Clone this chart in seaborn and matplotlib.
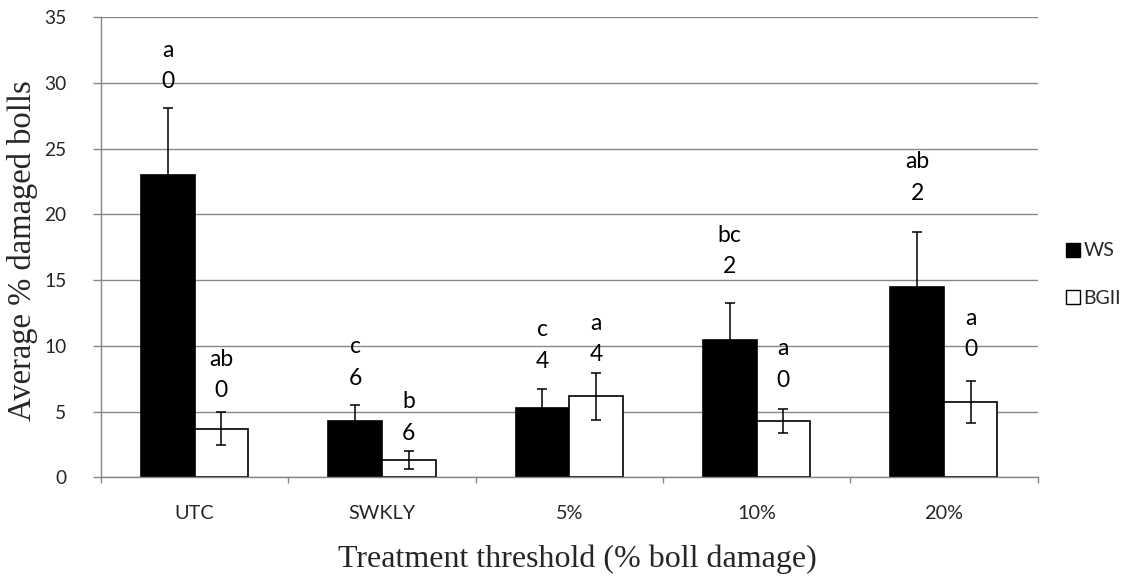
import matplotlib
matplotlib.use("Agg")
import matplotlib.pyplot as plt
from matplotlib.patches import Patch
import numpy as np
import pandas as pd
import seaborn as sns

# Mean % damaged bolls per treatment threshold, with standard errors
categories = ["UTC", "SWKLY", "5%", "10%", "20%"]
series = ["WS", "BGII"]
ws_mean = [23.0, 4.3, 5.3, 10.45, 14.5]
ws_err = [5.1, 1.2, 1.45, 2.85, 4.2]
bgii_mean = [3.7, 1.3, 6.15, 4.3, 5.7]
bgii_err = [1.25, 0.7, 1.78, 0.93, 1.6]

# Significance letters and spray counts written above each bar
ws_letters = ["a", "c", "c", "bc", "ab"]
bgii_letters = ["ab", "b", "a", "a", "a"]
ws_counts = ["0", "6", "4", "2", "2"]
bgii_counts = ["0", "6", "4", "0", "0"]

# Heights (data units) at which the spray-count line sits
ws_label_y = [30.1, 7.53, 8.8, 16.02, 21.61]
bgii_label_y = [6.59, 3.35, 9.31, 7.4, 9.69]

y_ticks = [0, 5, 10, 15, 20, 25, 30, 35]

sns.set_theme(style="white")
plt.rcParams["font.family"] = ["Lato", "DejaVu Sans"]

GRID = "#878787"
SERIF = ["Liberation Serif", "DejaVu Serif"]

df = pd.DataFrame({
    "threshold": categories * 2,
    "variety": ["WS"] * len(categories) + ["BGII"] * len(categories),
    "mean": ws_mean + bgii_mean,
})

fig = plt.figure(figsize=(11.36, 5.77), dpi=100)
ax = fig.add_axes([0.0889, 0.1728, 0.8244, 0.7972])

sns.barplot(
    data=df, x="threshold", y="mean", hue="variety",
    order=categories, hue_order=series,
    palette={"WS": "black", "BGII": "white"},
    errorbar=None, width=0.572, saturation=1,
    edgecolor="black", linewidth=1.2, legend=False, ax=ax, zorder=2,
)

# Error bars placed on the centres of the drawn bars
for container, means, errs in zip(ax.containers, [ws_mean, bgii_mean], [ws_err, bgii_err]):
    xs = [b.get_x() + b.get_width() / 2 for b in container]
    ax.errorbar(xs, means, yerr=errs, fmt="none", ecolor="black",
                elinewidth=1.1, capsize=3.4, capthick=1.1, zorder=3)

# Two-line annotations: letter on top, count below
for container, letters, counts, ys in zip(
        ax.containers, [ws_letters, bgii_letters], [ws_counts, bgii_counts],
        [ws_label_y, bgii_label_y]):
    for bar, let, cnt, y in zip(container, letters, counts, ys):
        xc = bar.get_x() + bar.get_width() / 2
        ax.text(xc, y, cnt, ha="center", va="center", fontsize=16.5,
                color="black", zorder=4)
        ax.annotate(let, (xc, y), xytext=(0, 22.8), textcoords="offset points",
                    ha="center", va="center", fontsize=16.5, color="black",
                    zorder=4)

ax.set_xlim(-0.5, len(categories) - 0.5)
ax.set_ylim(0, 35)
ax.set_yticks(y_ticks)
ax.set_yticklabels([str(t) for t in y_ticks], fontsize=13.8)

# Category labels at centres, tick marks at the category boundaries
ax.set_xticks(range(len(categories)))
ax.set_xticklabels(categories, fontsize=14.3)
ax.set_xticks(np.arange(-0.5, len(categories), 1.0), minor=True)
ax.tick_params(axis="x", which="major", length=0, pad=20)
ax.tick_params(axis="x", which="minor", length=4.5, width=1.0, color=GRID,
               direction="out", bottom=True)
ax.tick_params(axis="y", which="major", length=6, width=1.0, color=GRID,
               direction="out", pad=19, left=True)

ax.yaxis.grid(True, color=GRID, linewidth=1.0)
ax.xaxis.grid(False)
ax.set_axisbelow(True)
for side in ["top", "right"]:
    ax.spines[side].set_visible(False)
for side in ["left", "bottom"]:
    ax.spines[side].set_color(GRID)
    ax.spines[side].set_linewidth(1.0)

ax.set_xlabel("Treatment threshold (% boll damage)", family=SERIF, fontsize=23)
ax.xaxis.set_label_coords(0.509, -0.1943)
ax.xaxis.label.set_verticalalignment("baseline")
ax.set_ylabel("Average % damaged bolls", family=SERIF, fontsize=23.5)
ax.yaxis.set_label_coords(-0.0833, 0.493)
ax.yaxis.label.set_verticalalignment("center")

handles = [Patch(facecolor="black", edgecolor="black", linewidth=1.0),
           Patch(facecolor="white", edgecolor="black", linewidth=1.0)]
ax.legend(handles, series, loc="center left", bbox_to_anchor=(1.03, 0.441),
          frameon=False, fontsize=14, handlelength=0.72, handleheight=0.72,
          handletextpad=0.2, labelspacing=1.55, borderpad=0, borderaxespad=0)

fig.savefig("out.png", dpi=100)
